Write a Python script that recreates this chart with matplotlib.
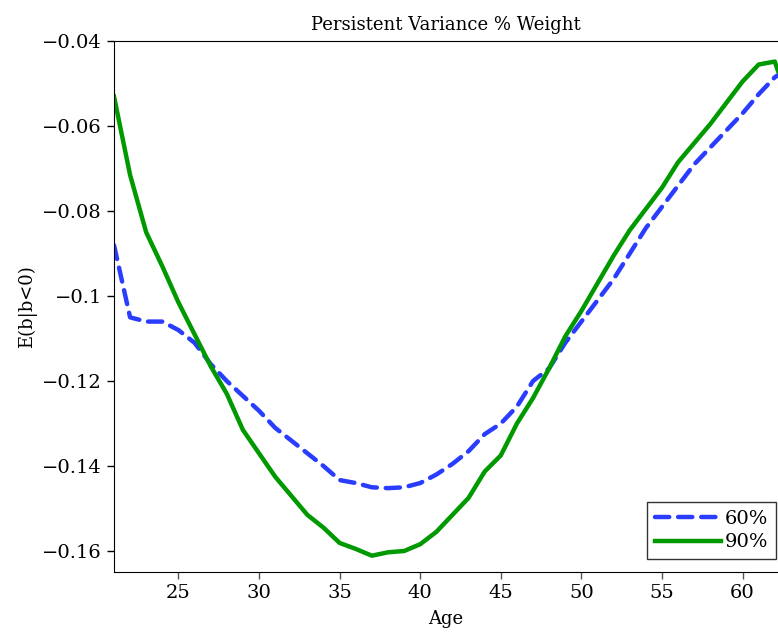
import numpy as np
import matplotlib
matplotlib.use('Agg')
from matplotlib import pyplot as plt

plt.rcParams['font.family'] = ['DejaVu Serif']

age = [21, 22, 23, 24, 25, 26, 27, 28, 29, 30, 31, 32, 33, 34, 35, 36, 37, 38, 39, 40, 41,
       42, 43, 44, 45, 46, 47, 48, 49, 50, 51, 52, 53, 54, 55, 56, 57, 58, 59, 60, 61, 62, 62.2]

# 60% weight (blue dashed)
w60 = [-0.088, -0.105, -0.106, -0.106, -0.108, -0.111, -0.116, -0.120, -0.1235, -0.127,
       -0.131, -0.134, -0.137, -0.140, -0.1433, -0.144, -0.145, -0.1452, -0.145, -0.144,
       -0.142, -0.1395, -0.1365, -0.1325, -0.130, -0.126, -0.120, -0.117, -0.111, -0.106,
       -0.101, -0.096, -0.090, -0.084, -0.079, -0.074, -0.069, -0.065, -0.061, -0.057,
       -0.0525, -0.0485, -0.048]

# 90% weight (green solid)
w90 = [-0.053, -0.0715, -0.085, -0.093, -0.1015, -0.109, -0.1165, -0.123, -0.1315, -0.137,
       -0.1425, -0.147, -0.1515, -0.1545, -0.1581, -0.1595, -0.1611, -0.1603, -0.160, -0.1584,
       -0.1555, -0.1515, -0.1475, -0.1413, -0.1375, -0.130, -0.124, -0.117, -0.1095, -0.1035,
       -0.097, -0.0905, -0.0845, -0.0795, -0.0745, -0.0685, -0.064, -0.0595, -0.0545, -0.0495,
       -0.0455, -0.0448, -0.047]

yticks = [-0.04, -0.06, -0.08, -0.1, -0.12, -0.14, -0.16]
ytick_labels = ['\u22120.04', '\u22120.06', '\u22120.08', '\u22120.1', '\u22120.12', '\u22120.14', '\u22120.16']
xticks = [25, 30, 35, 40, 45, 50, 55, 60]

fig = plt.figure(figsize=(7.78, 6.43), dpi=100)
ax = fig.add_axes([0.1465, 0.110, 0.8535, 0.826])

ax.plot(age, w60, color='#2a3dff', lw=3.2, ls=(0, (3.2, 2.0)), dash_capstyle='round',
        label='60%')
ax.plot(age, w90, color='#009900', lw=3.2, label='90%')

ax.set_xlim(21, 62.2)
ax.set_ylim(-0.165, -0.04)
ax.set_xticks(xticks)
ax.set_yticks(yticks)
ax.set_yticklabels(ytick_labels)
ax.tick_params(direction='out', labelsize=14, length=5, width=1)
ax.tick_params(axis='x', colors='#555555', labelcolor='black')
ax.spines['right'].set_visible(False)

ax.set_xlabel('Age', fontsize=13, labelpad=6)
ax.set_ylabel('E(b|b<0)', fontsize=13, labelpad=4)
ax.set_title('Persistent Variance % Weight', fontsize=13, pad=8)

leg = ax.legend(loc='lower right', bbox_to_anchor=(0.997, 0.0245), fontsize=14,
                frameon=True, fancybox=False, edgecolor='black', handlelength=3.4,
                handletextpad=0.2, borderpad=0.4, labelspacing=0.3, borderaxespad=0.0)
leg.get_frame().set_linewidth(1.0)

fig.savefig('out.png', dpi=100)
